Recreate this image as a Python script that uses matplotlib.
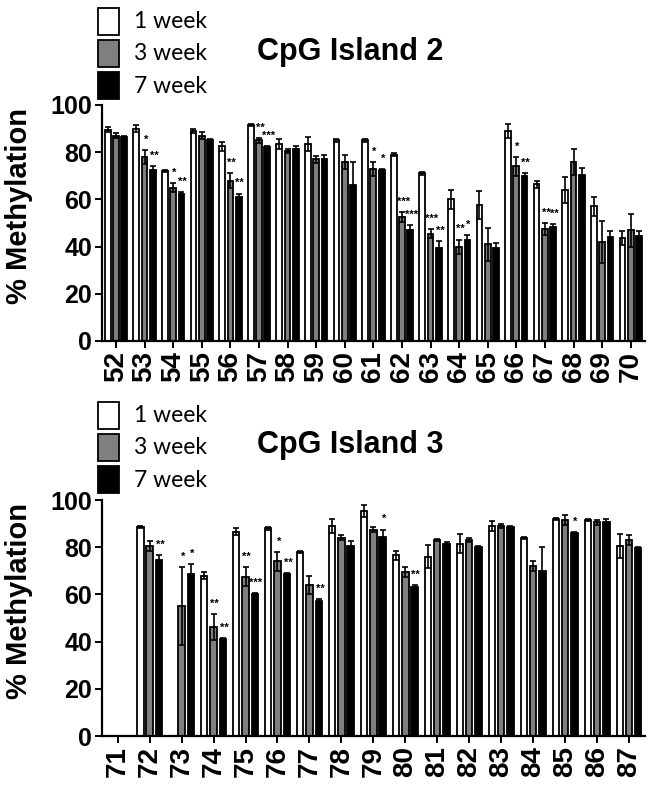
import numpy as np
import matplotlib
matplotlib.use("Agg")
import matplotlib.pyplot as plt
from matplotlib.patches import Rectangle

# ---------------- data ----------------
series_labels = ["1 week", "3 week", "7 week"]
series_colors = ["#ffffff", "#7f7f7f", "#000000"]

cpg2_sites = ["52", "53", "54", "55", "56", "57", "58", "59", "60", "61",
              "62", "63", "64", "65", "66", "67", "68", "69", "70"]
cpg2_w1 = [89.5, 90, 72, 89, 82.5, 91.5, 83.5, 83.5, 85, 85,
           79, 71, 60, 57.5, 89, 66.5, 64, 57, 43.5]
cpg2_w3 = [87, 78, 65, 87, 68, 85, 80.5, 77, 76, 73,
           52.5, 45.5, 40, 41, 74, 47.5, 76, 42, 47]
cpg2_w7 = [86.5, 72.5, 62.5, 85, 61, 82, 81.5, 77, 66, 72.5,
           47, 39.5, 43, 39.5, 70, 48.5, 70.5, 44, 44.5]
cpg2_e1 = [1, 1.5, 0.5, 1, 2, 0.5, 2, 3, 0.5, 0.5,
           0.5, 0.5, 4, 6, 3, 1.5, 5.5, 4, 3]
cpg2_e3 = [1, 3, 2, 1.5, 3, 1, 1, 1.5, 3, 3,
           2, 2, 3, 7, 4, 2.5, 5.5, 9, 7]
cpg2_e7 = [0.5, 1.5, 0.5, 0.5, 1.5, 0.5, 1, 2, 10, 0.5,
           2, 3, 2, 2, 1, 1, 3, 2.5, 2]
cpg2_s3 = ["", "*", "*", "", "**", "**", "", "", "", "*",
           "***", "***", "**", "", "*", "**", "", "", ""]
cpg2_s7 = ["", "**", "**", "", "**", "***", "", "", "", "*",
           "***", "**", "*", "", "**", "**", "", "", ""]

cpg3_sites = ["71", "72", "73", "74", "75", "76", "77", "78", "79",
              "80", "81", "82", "83", "84", "85", "86", "87"]
cpg3_w1 = [np.nan, 88.5, np.nan, 68, 86.5, 88, 78, 89, 95.5,
           76.5, 76, 81.5, 89, 84, 92, 91.5, 80.5]
cpg3_w3 = [np.nan, 80.5, 55, 46, 67.5, 74, 64, 84, 87.5,
           69.5, 83, 83, 89, 72, 91.5, 90.5, 83]
cpg3_w7 = [np.nan, 74.5, 68.5, 41, 60, 68.5, 57, 80.5, 84.5,
           63, 81.5, 80, 88.5, 70, 86, 90.5, 79.5]
cpg3_e1 = [np.nan, 0.5, np.nan, 1.5, 1.5, 0.5, 0.5, 3, 2.5,
           2, 5, 4, 2, 0.5, 0.5, 0.5, 5]
cpg3_e3 = [np.nan, 2, 16.5, 5.5, 4, 4, 4, 1, 1,
           2, 0.5, 1, 1, 2, 2, 1, 2]
cpg3_e7 = [np.nan, 2, 4.5, 0.5, 0.5, 0.5, 1, 2, 3,
           1, 0.5, 0.5, 0.5, 10, 0.5, 1.5, 0.5]
cpg3_s3 = ["", "", "*", "**", "**", "*", "", "", "",
           "", "", "", "", "", "", "", ""]
cpg3_s7 = ["", "**", "*", "**", "***", "**", "**", "", "*",
           "**", "", "", "", "", "*", "", ""]

yticks = [0, 20, 40, 60, 80, 100]

# ---------------- figure ----------------
W, H = 652, 788
fig = plt.figure(figsize=(W / 100, H / 100), dpi=100)

BOLD = ["Liberation Sans", "DejaVu Sans"]
LEG = ["Lato", "DejaVu Sans"]


def px(x0, y0, x1, y1):
    return [x0 / W, 1 - y1 / H, (x1 - x0) / W, (y1 - y0) / H]


def panel(rect, sites, vals, errs, stars3, stars7, title, title_y, leg_y):
    ax = fig.add_axes(rect)
    n = len(sites)
    x = np.arange(n)
    offs = [-0.29, 0.0, 0.29]
    bw = 0.2
    for k in range(3):
        v = np.array(vals[k], dtype=float)
        e = np.array(errs[k], dtype=float)
        ax.bar(x + offs[k], v, width=bw, color=series_colors[k],
               edgecolor="black", linewidth=1.3, zorder=2)
        ax.errorbar(x + offs[k], v, yerr=e, fmt="none", ecolor="black",
                    elinewidth=1.2, capsize=2, capthick=1.2, zorder=3)
    for k, st in ((1, stars3), (2, stars7)):
        v = np.array(vals[k], dtype=float)
        e = np.array(errs[k], dtype=float)
        for i, s in enumerate(st):
            if s:
                ax.text(x[i] + offs[k] + 0.04, v[i] + e[i] + 2.2, s,
                        ha="center", va="bottom", fontsize=8,
                        fontweight="bold", family=BOLD, zorder=4)
    ax.set_xlim(-0.5, n - 0.5)
    ax.set_ylim(0, 100)
    ax.set_yticks(yticks)
    ax.set_yticklabels([str(t) for t in yticks], fontsize=18,
                       fontweight="bold", family=BOLD)
    ax.set_xticks(x)
    ax.set_xticklabels(sites, rotation=90, fontsize=20,
                       fontweight="bold", family=BOLD)
    for sp in ("top", "right"):
        ax.spines[sp].set_visible(False)
    for sp in ("left", "bottom"):
        ax.spines[sp].set_linewidth(1.6)
    ax.tick_params(axis="both", direction="out", length=5, width=1.4,
                   pad=2)
    ax.set_ylabel("% Methylation", fontsize=21, fontweight="bold",
                  family=BOLD)
    ax.yaxis.set_label_coords(-0.126, 0.57)
    fig.text(350 / W, 1 - title_y / H, title, ha="center", va="center",
             fontsize=22, fontweight="bold", family=BOLD)
    # legend
    for k in range(3):
        y0 = leg_y + k * 32.3
        fig.add_artist(Rectangle((98 / W, 1 - (y0 + 27) / H), 21 / W,
                                 27 / H, transform=fig.transFigure,
                                 facecolor=series_colors[k],
                                 edgecolor="black", linewidth=1.3))
        fig.text(134 / W, 1 - (y0 + 14) / H, series_labels[k],
                 ha="left", va="center", fontsize=16.5, family=LEG)
    return ax


panel(px(101.7, 105, 645, 341), cpg2_sites,
      [cpg2_w1, cpg2_w3, cpg2_w7], [cpg2_e1, cpg2_e3, cpg2_e7],
      cpg2_s3, cpg2_s7, "CpG Island 2", 52, 7.5)
panel(px(101.7, 500, 645, 736), cpg3_sites,
      [cpg3_w1, cpg3_w3, cpg3_w7], [cpg3_e1, cpg3_e3, cpg3_e7],
      cpg3_s3, cpg3_s7, "CpG Island 3", 445, 401.5)

fig.savefig("out.png", dpi=100)
